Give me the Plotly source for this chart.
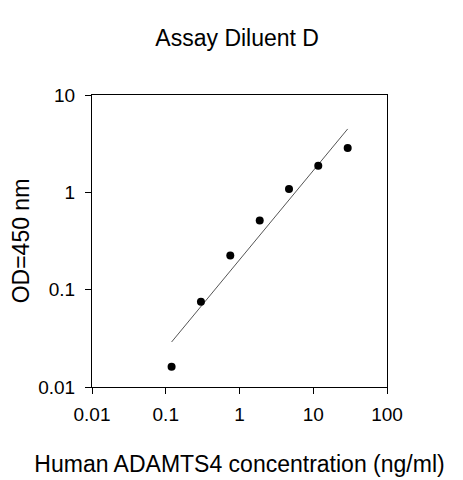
import plotly.graph_objects as go

# concentration (ng/ml) and OD readings
conc = [0.12, 0.3, 0.75, 1.88, 4.69, 11.7, 29.3]
od = [0.0161, 0.0753, 0.225, 0.515, 1.08, 1.88, 2.86]

# fitted line end points
fit_x = [0.12, 29.3]
fit_y = [0.029, 4.48]

x_ticks = [0.01, 0.1, 1, 10, 100]
x_labels = ["0.01", "0.1", "1", "10", "100"]
y_ticks = [0.01, 0.1, 1, 10]
y_labels = ["0.01", "0.1", "1", "10"]

font = "Liberation Sans, Arial, sans-serif"

fig = go.Figure()

fig.add_trace(go.Scatter(
    x=fit_x, y=fit_y,
    mode="lines",
    line=dict(color="#555555", width=1),
    showlegend=False,
))

fig.add_trace(go.Scatter(
    x=conc, y=od,
    mode="markers",
    marker=dict(color="black", size=8),
    showlegend=False,
))

# page body has an 8px margin, so the margins are shifted to compensate
fig.update_layout(
    width=463, height=480,
    margin=dict(l=84, r=84, t=87, b=101),
    paper_bgcolor="white", plot_bgcolor="white",
    font=dict(family=font, color="black", size=19),
    title=dict(text="Assay Diluent D", x=0.495, xanchor="center",
               y=1 - 30 / 480, yanchor="middle", yref="container",
               font=dict(size=23)),
)

fig.update_xaxes(
    type="log", range=[-2, 2],
    tickvals=x_ticks, ticktext=x_labels,
    ticks="outside", ticklen=6, tickcolor="black", tickwidth=1,
    showline=True, linecolor="black", linewidth=1, mirror=True,
    showgrid=False, zeroline=False, automargin=False,
    ticklabelstandoff=4,
    title=dict(text="Human ADAMTS4 concentration (ng/ml)", standoff=32,
               font=dict(size=23)),
)

fig.update_yaxes(
    type="log", range=[-2, 1],
    tickvals=y_ticks, ticktext=y_labels,
    ticks="outside", ticklen=6, tickcolor="black", tickwidth=1,
    showline=True, linecolor="black", linewidth=1, mirror=True,
    showgrid=False, zeroline=False, automargin=False,
    ticklabelstandoff=6,
    title=dict(text="OD=450 nm", standoff=17, font=dict(size=23)),
)

fig.write_html("out.html")
